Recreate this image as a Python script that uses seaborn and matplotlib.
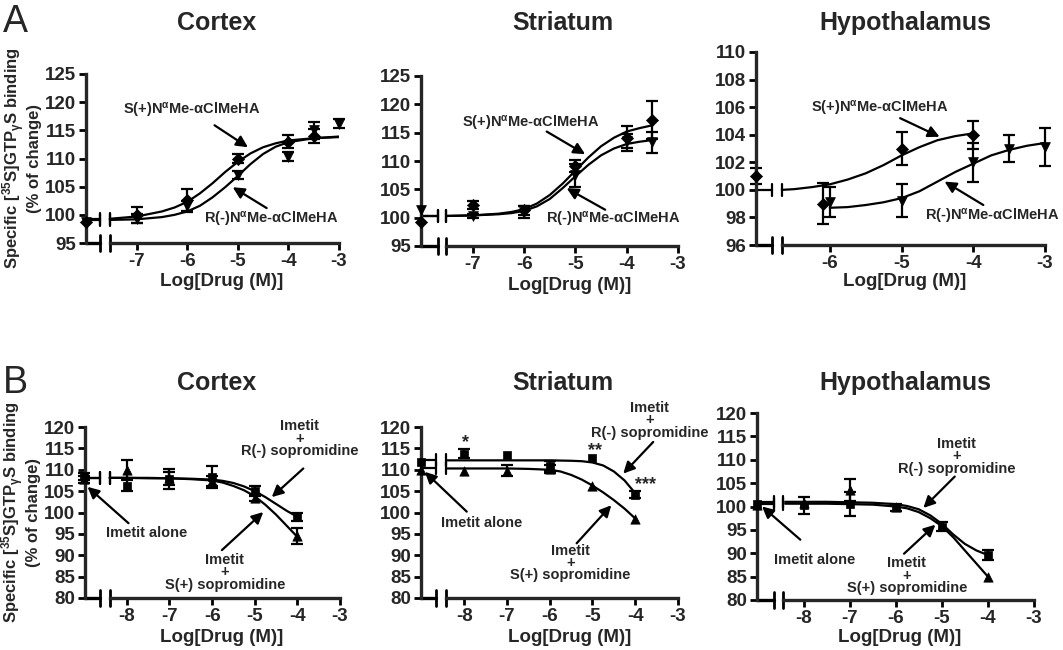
import matplotlib
matplotlib.use('Agg')
import matplotlib.pyplot as plt
import seaborn as sns

# ---------------- panel A : S(+) / R(-) N-alpha-Me-alpha-ClMeHA ----------------
# Cortex
a_ctx_s_x = [-8.0, -7, -6, -5, -4, -3.5]
a_ctx_s_y = [98.8, 100.0, 102.6, 110.0, 113.0, 114.0]
a_ctx_s_e = [0, 1.4, 1.9, 0.8, 1.2, 1.2]
a_ctx_r_x = [-8.0, -7, -6, -5, -4, -3.5, -3]
a_ctx_r_y = [98.8, 99.3, 101.5, 107.0, 110.3, 115.0, 116.2]
a_ctx_r_e = [0, 0.8, 1.0, 0.7, 0.8, 1.5, 0.8]
a_ctx_fit_x = [-7.53, -7, -6.5, -6.25, -6, -5.75, -5.5, -5.25, -5, -4.75, -4.5, -4.25, -4, -3.5, -3]
a_ctx_fit_s = [99.3, 99.7, 100.6, 101.3, 102.3, 103.8, 105.6, 107.6, 109.4, 110.9, 112.0, 112.7,
               113.2, 113.6, 113.8]
a_ctx_fit_r = [99.1, 99.2, 99.6, 100.0, 100.6, 101.6, 103.1, 104.9, 106.9, 109.0, 110.8, 112.1,
               112.9, 113.6, 113.9]

# Striatum
a_str_s_x = [-8.01, -7, -6, -5, -4, -3.5]
a_str_s_y = [99.3, 102.2, 101.3, 109.1, 114.0, 117.2]
a_str_s_e = [0, 0.7, 0.8, 1.0, 2.2, 3.4]
a_str_r_x = [-8.01, -7, -6, -5, -4, -3.5]
a_str_r_y = [101.4, 100.3, 101.0, 107.5, 113.5, 113.3]
a_str_r_e = [0, 0.3, 1.0, 2.0, 1.2, 1.8]
a_str_fit_x = [-7.52, -7, -6.5, -6.25, -6, -5.75, -5.5, -5.25, -5, -4.75, -4.5, -4.25, -4, -3.75, -3.5]
a_str_fit_s = [100.3, 100.4, 100.7, 101.0, 101.5, 102.5, 104.0, 106.0, 108.3, 110.6, 112.6, 114.1,
               115.2, 115.8, 116.3]
a_str_fit_r = [100.3, 100.4, 100.6, 100.8, 101.2, 102.0, 103.3, 105.2, 107.3, 109.3, 111.0, 112.2,
               113.0, 113.4, 113.7]

# Hypothalamus
a_hyp_s_x = [-7.03, -6.1, -5, -4]
a_hyp_s_y = [101.0, 99.0, 103.0, 104.0]
a_hyp_s_e = [0.6, 1.5, 1.2, 1.0]
a_hyp_r_x = [-6, -5, -4, -3.5, -3]
a_hyp_r_y = [99.1, 99.2, 102.0, 103.0, 103.1]
a_hyp_r_e = [1.1, 1.2, 1.4, 1.0, 1.4]
a_hyp_fit_s_x = [-6.67, -6.5, -6.25, -6, -5.75, -5.5, -5.25, -5, -4.75, -4.5, -4.25, -4]
a_hyp_fit_s = [100.0, 100.05, 100.2, 100.4, 100.75, 101.2, 101.8, 102.5, 103.1, 103.6, 103.9, 104.1]
a_hyp_fit_r_x = [-6, -5.75, -5.5, -5.25, -5, -4.75, -4.5, -4.25, -4, -3.75, -3.5, -3.25, -3]
a_hyp_fit_r = [98.7, 98.75, 98.9, 99.1, 99.4, 99.9, 100.6, 101.3, 101.9, 102.5, 102.9, 103.2, 103.4]

# ---------------- panel B : imetit + R(-) / S(+) sopromidine ----------------
dose_b = [-9.0, -8, -7, -6, -5, -4]
fit_b_x = [-8.4, -8, -7.5, -7, -6.5, -6, -5.75, -5.5, -5.25, -5, -4.75, -4.5, -4.25, -4]
# Cortex
b_ctx_r_y = [108.5, 106.3, 107.8, 108.3, 105.0, 99.0]
b_ctx_r_e = [0.8, 1.2, 2.3, 2.5, 1.2, 1.0]
b_ctx_s_y = [107.8, 110.0, 108.0, 107.3, 103.5, 94.5]
b_ctx_s_e = [0.8, 2.2, 1.5, 1.2, 0.8, 1.8]
b_ctx_fit_r = [108.1, 108.1, 108.1, 108.0, 107.9, 107.7, 107.4, 106.9, 106.1, 105.0, 103.6, 102.0,
               100.4, 99.0]
b_ctx_fit_s = [108.1, 108.1, 108.0, 108.0, 107.8, 107.5, 107.0, 106.2, 105.2, 103.8, 101.8, 99.5,
               96.9, 94.3]

# Striatum
b_str_r_y = [111.8, 113.8, 113.4, 110.8, 112.7, 104.2]
b_str_r_e = [0, 1.0, 0, 1.2, 0, 0.8]
b_str_s_y = [110.0, 109.6, 109.8, 110.2, 106.1, 98.5]
b_str_s_e = [0, 0, 1.2, 1.0, 0, 0]
b_str_fit_r = [112.2, 112.2, 112.2, 112.2, 112.2, 112.2, 112.15, 112.1, 112.0, 111.7, 111.0, 109.6,
               107.5, 104.5]
b_str_fit_s = [110.3, 110.3, 110.3, 110.3, 110.2, 110.0, 109.6, 108.8, 107.7, 106.3, 104.7, 102.9,
               100.9, 98.6]
b_str_stars = ['*', '**', '***']
b_str_star_x = [-7.98, -4.95, -3.75]
b_str_star_y = [116.3, 114.4, 106.6]

# Hypothalamus
b_hyp_r_y = [100.6, 100.3, 100.5, 99.8, 95.7, 89.6]
b_hyp_r_e = [0, 1.8, 2.5, 0.8, 1.0, 1.0]
b_hyp_s_y = [100.3, 100.8, 103.5, 100.0, 95.8, 85.0]
b_hyp_s_e = [0, 0, 2.3, 0, 0, 0]
b_hyp_fit_r = [101.0, 101.0, 101.0, 100.9, 100.8, 100.5, 100.1, 99.4, 98.1, 96.3, 94.0, 92.0,
               90.6, 89.6]
b_hyp_fit_s = [100.6, 100.6, 100.6, 100.5, 100.4, 100.0, 99.6, 98.8, 97.5, 95.8, 93.4, 90.6,
               87.8, 85.0]

lbl_s = r'S(+)N$^{\alpha}$Me-$\alpha$ClMeHA'
lbl_r = r'R(-)N$^{\alpha}$Me-$\alpha$ClMeHA'
lbl_bs = 'Imetit\n+\nS(+) sopromidine'
lbl_br = 'Imetit\n+\nR(-) sopromidine'
lbl_alone = 'Imetit alone'

sns.set_style('ticks')
plt.rcParams['font.family'] = ['Liberation Sans', 'DejaVu Sans']
plt.rcParams['font.weight'] = 'bold'
plt.rcParams['axes.labelweight'] = 'bold'
plt.rcParams['axes.unicode_minus'] = False
plt.rcParams['mathtext.fontset'] = 'custom'
plt.rcParams['mathtext.rm'] = 'Liberation Sans:bold'
plt.rcParams['mathtext.it'] = 'Liberation Sans:bold'
plt.rcParams['mathtext.bf'] = 'Liberation Sans:bold'

W, H = 1063, 650
fig = plt.figure(figsize=(W / 100, H / 100), dpi=100)


def make_ax(l, t, r, b):
    return fig.add_axes([l / W, 1 - b / H, (r - l) / W, (b - t) / H])


def draw(ax, xlim, ylim, yticks, xticks, brk, series, fits, notes):
    ax.set_xlim(xlim)
    ax.set_ylim(ylim)
    ax.set_yticks(yticks)
    ax.set_xticks(xticks)
    ax.set_xticklabels([str(t) for t in xticks])
    sns.despine(ax=ax)
    ax.spines['left'].set_linewidth(2.4)
    ax.spines['bottom'].set_linewidth(2.4)
    ax.spines['bottom'].set_bounds(brk[1], xlim[1])
    ax.tick_params(direction='out', length=5, width=2, labelsize=13.5, color='black', pad=2)
    # px per data unit, for the break marks
    bb = ax.get_position()
    ypx = (ylim[1] - ylim[0]) / (bb.height * H)
    ax.plot([xlim[0], brk[0]], [ylim[0], ylim[0]], color='black', lw=2.4, clip_on=False)
    for b in brk:
        ax.plot([b, b], [ylim[0] - 8 * ypx, ylim[0] + 8 * ypx], color='black', lw=2, clip_on=False)
    # fitted curves
    for fx, fy, left in fits:
        sns.lineplot(x=fx, y=fy, ax=ax, color='black', lw=1.6, sort=False, estimator=None)
        if left:
            ax.plot([xlim[0], brk[0]], [fy[0], fy[0]], color='black', lw=1.6, clip_on=False)
            for b in brk:
                ax.plot([b, b], [fy[0] - 6 * ypx, fy[0] + 6 * ypx], color='black', lw=1.6)
    # points with error bars
    for x, y, e, m, s in series:
        xe = [a for a, c in zip(x, e) if c > 0]
        ye = [a for a, c in zip(y, e) if c > 0]
        ee = [c for c in e if c > 0]
        ax.errorbar(xe, ye, yerr=ee, fmt='none', ecolor='black', elinewidth=1.6,
                    capsize=4, capthick=1.6, clip_on=False)
        sns.scatterplot(x=x, y=y, ax=ax, marker=m, s=s, color='black',
                        edgecolor='black', linewidth=0.5, clip_on=False, zorder=5)
    for txt, tx, ty, head, tail in notes:
        ax.text(tx, ty, txt, ha='center', va='center', fontsize=10.5,
                fontweight='bold', linespacing=0.85)
        if head is not None:
            ax.annotate('', xy=head, xytext=tail,
                        arrowprops=dict(arrowstyle='-|>', color='black', lw=1.6,
                                        mutation_scale=17, shrinkA=0, shrinkB=0))


ylab = 'Specific [$^{35}$S]GTP$_{\\gamma}$S binding\n(% of change)'

# ---- row A ----
ax = make_ax(86, 74, 339, 243)
draw(ax, (-8.0, -3), (95, 125), range(95, 126, 5), [-7, -6, -5, -4, -3], (-7.73, -7.53),
     [(a_ctx_s_x, a_ctx_s_y, a_ctx_s_e, 'D', 38), (a_ctx_r_x, a_ctx_r_y, a_ctx_r_e, 'v', 50)],
     [(a_ctx_fit_x, a_ctx_fit_s, True), (a_ctx_fit_x, a_ctx_fit_r, True)],
     [(lbl_s, -5.91, 118.6, (-4.80, 112.0), (-5.46, 115.9)),
      (lbl_r, -4.33, 99.1, (-5.10, 104.9), (-4.43, 101.2))])
ax.set_ylabel(ylab, fontsize=12, linespacing=1.0, labelpad=2)

ax = make_ax(421, 76, 678, 246)
draw(ax, (-8.01, -3), (95, 125), range(95, 126, 5), [-7, -6, -5, -4, -3], (-7.68, -7.52),
     [(a_str_s_x, a_str_s_y, a_str_s_e, 'D', 38), (a_str_r_x, a_str_r_y, a_str_r_e, 'v', 50)],
     [(a_str_fit_x, a_str_fit_s, True), (a_str_fit_x, a_str_fit_r, True)],
     [(lbl_s, -5.88, 116.7, (-4.81, 111.2), (-5.56, 115.2)),
      (lbl_r, -4.26, 99.6, (-5.17, 105.2), (-4.42, 101.4))])

ax = make_ax(756, 52, 1045, 245)
draw(ax, (-7.03, -3), (96, 110), range(96, 111, 2), [-6, -5, -4, -3], (-6.80, -6.67),
     [(a_hyp_s_x, a_hyp_s_y, a_hyp_s_e, 'D', 38), (a_hyp_r_x, a_hyp_r_y, a_hyp_r_e, 'v', 50)],
     [(a_hyp_fit_s_x, a_hyp_fit_s, True), (a_hyp_fit_r_x, a_hyp_fit_r, False)],
     [(lbl_s, -5.30, 105.9, (-4.47, 103.85), (-5.02, 105.2)),
      (lbl_r, -3.74, 98.05, (-4.40, 100.6), (-3.86, 98.9))])

# ---- row B ----
xb = [-8, -7, -6, -5, -4, -3]
ax = make_ax(85, 427, 340, 598)
draw(ax, (-8.98, -3), (80, 120), range(80, 121, 5), xb, (-8.63, -8.40),
     [(dose_b, b_ctx_r_y, b_ctx_r_e, 's', 32), (dose_b, b_ctx_s_y, b_ctx_s_e, '^', 45)],
     [(fit_b_x, b_ctx_fit_r, True), (fit_b_x, b_ctx_fit_s, True)],
     [(lbl_br, -3.94, 117.3, (-4.60, 103.6), (-3.86, 110.3)),
      (lbl_alone, -7.54, 95.1, (-8.92, 106.0), (-7.96, 97.5)),
      (lbl_bs, -5.70, 86.0, (-4.80, 100.1), (-5.77, 91.2))])
ax.set_ylabel(ylab, fontsize=12, linespacing=1.0, labelpad=2)

ax = make_ax(421, 427, 678, 598)
draw(ax, (-9.01, -3), (80, 120), range(80, 121, 5), xb, (-8.66, -8.43),
     [(dose_b, b_str_r_y, b_str_r_e, 's', 32), (dose_b, b_str_s_y, b_str_s_e, '^', 45)],
     [(fit_b_x, b_str_fit_r, True), (fit_b_x, b_str_fit_s, True)],
     [(lbl_br, -3.66, 121.6, (-4.28, 109.1), (-3.58, 116.5)),
      (lbl_alone, -7.59, 97.5, (-8.92, 109.5), (-7.94, 100.2)),
      (lbl_bs, -5.51, 88.2, (-4.56, 101.7), (-5.37, 92.8))])
for st, sx, sy in zip(b_str_stars, b_str_star_x, b_str_star_y):
    ax.text(sx, sy, st, ha='center', va='center', fontsize=13, fontweight='bold')

ax = make_ax(757, 413, 1034, 600)
draw(ax, (-9.01, -3), (80, 120), range(80, 121, 5), xb, (-8.65, -8.45),
     [(dose_b, b_hyp_r_y, b_hyp_r_e, 's', 32), (dose_b, b_hyp_s_y, b_hyp_s_e, '^', 45)],
     [(fit_b_x, b_hyp_fit_r, True), (fit_b_x, b_hyp_fit_s, True)],
     [(lbl_br, -4.68, 110.7, (-5.40, 99.7), (-4.72, 106.4)),
      (lbl_alone, -7.75, 88.6, (-8.90, 100.0), (-8.07, 92.9)),
      (lbl_bs, -5.76, 85.2, (-5.14, 96.1), (-5.82, 89.9))])

# titles, x labels and panel letters
for tx, name in [(217, 'Cortex'), (563, 'Striatum'), (905, 'Hypothalamus')]:
    fig.text(tx / W, 1 - 23 / H, name, ha='center', va='center', fontsize=18, fontweight='bold')
    fig.text(tx / W, 1 - 383 / H, name, ha='center', va='center', fontsize=18, fontweight='bold')
for tx, ty in [(222, 282), (570, 285), (905, 282), (222, 637), (570, 637), (900, 637)]:
    fig.text(tx / W, 1 - ty / H, 'Log[Drug (M)]', ha='center', va='center', fontsize=13.5,
             fontweight='bold')
fig.text(15 / W, 1 - 22 / H, 'A', ha='center', va='center', fontsize=27, fontweight='normal')
fig.text(15 / W, 1 - 383 / H, 'B', ha='center', va='center', fontsize=27, fontweight='normal')

fig.savefig('out.png', dpi=100)
